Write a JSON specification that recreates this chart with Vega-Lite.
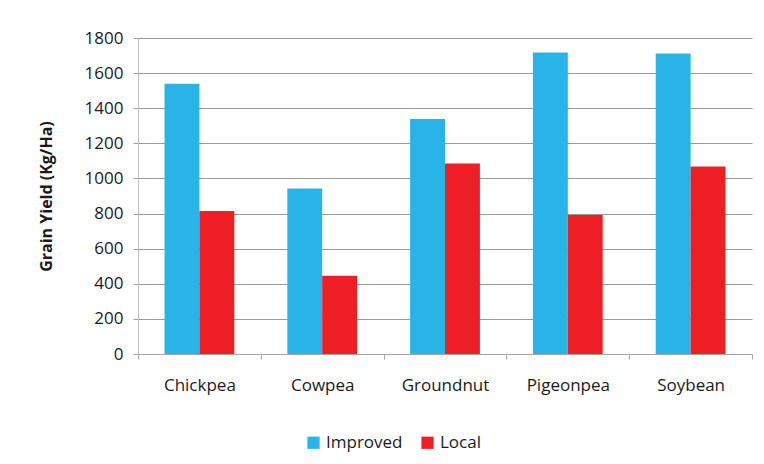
{
  "$schema": "https://vega.github.io/schema/vega-lite/v6.json",
  "width": 614,
  "height": 316,
  "autosize": {"type": "none"},
  "padding": {"left": 138, "top": 38, "right": 12, "bottom": 110},
  "background": "white",
  "config": {
    "font": "Open Sans",
    "view": {"stroke": null},
    "axis": {"labelFont": "Open Sans", "titleFont": "Open Sans", "labelColor": "#1a1a1a", "titleColor": "#1a1a1a"}
  },
  "data": {
    "values": [
      {"crop": "Chickpea", "variety": "Improved", "yield": 1540},
      {"crop": "Chickpea", "variety": "Local", "yield": 815},
      {"crop": "Cowpea", "variety": "Improved", "yield": 943},
      {"crop": "Cowpea", "variety": "Local", "yield": 446},
      {"crop": "Groundnut", "variety": "Improved", "yield": 1338},
      {"crop": "Groundnut", "variety": "Local", "yield": 1085},
      {"crop": "Pigeonpea", "variety": "Improved", "yield": 1718},
      {"crop": "Pigeonpea", "variety": "Local", "yield": 792},
      {"crop": "Soybean", "variety": "Improved", "yield": 1712},
      {"crop": "Soybean", "variety": "Local", "yield": 1068}
    ]
  },
  "mark": {"type": "bar"},
  "encoding": {
    "x": {
      "field": "crop",
      "type": "nominal",
      "sort": null,
      "scale": {"paddingInner": 0, "paddingOuter": 0},
      "axis": {
        "title": null,
        "labelAngle": 0,
        "labelFontSize": 17,
        "labelPadding": 18,
        "tickBand": "extent",
        "tickSize": 5,
        "tickColor": "#a6a6a6",
        "domainColor": "#a6a6a6",
        "grid": false
      }
    },
    "xOffset": {
      "field": "variety",
      "type": "nominal",
      "scale": {"paddingOuter": 0.76, "paddingInner": 0}
    },
    "y": {
      "field": "yield",
      "type": "quantitative",
      "scale": {"domain": [0, 1800]},
      "axis": {
        "title": "Grain Yield (Kg/Ha)",
        "titleFontSize": 16,
        "titleFontWeight": "bold",
        "titlePadding": 30,
        "format": "d",
        "values": [0, 200, 400, 600, 800, 1000, 1200, 1400, 1600, 1800],
        "labelFontSize": 17,
        "labelPadding": 10,
        "tickSize": 5,
        "tickColor": "#a0a0a0",
        "domainColor": "#bfbfbf",
        "gridColor": "#999999",
        "grid": true
      }
    },
    "color": {
      "field": "variety",
      "type": "nominal",
      "scale": {"domain": ["Improved", "Local"], "range": ["#29B4E7", "#EE1F24"]},
      "legend": {
        "title": null,
        "orient": "none",
        "direction": "horizontal",
        "legendX": 167,
        "legendY": 396,
        "symbolType": "square",
        "symbolSize": 150,
        "symbolStrokeWidth": 0,
        "labelFontSize": 17,
        "labelColor": "#1a1a1a",
        "labelFont": "Open Sans",
        "columnPadding": 16,
        "labelOffset": 4
      }
    }
  }
}
